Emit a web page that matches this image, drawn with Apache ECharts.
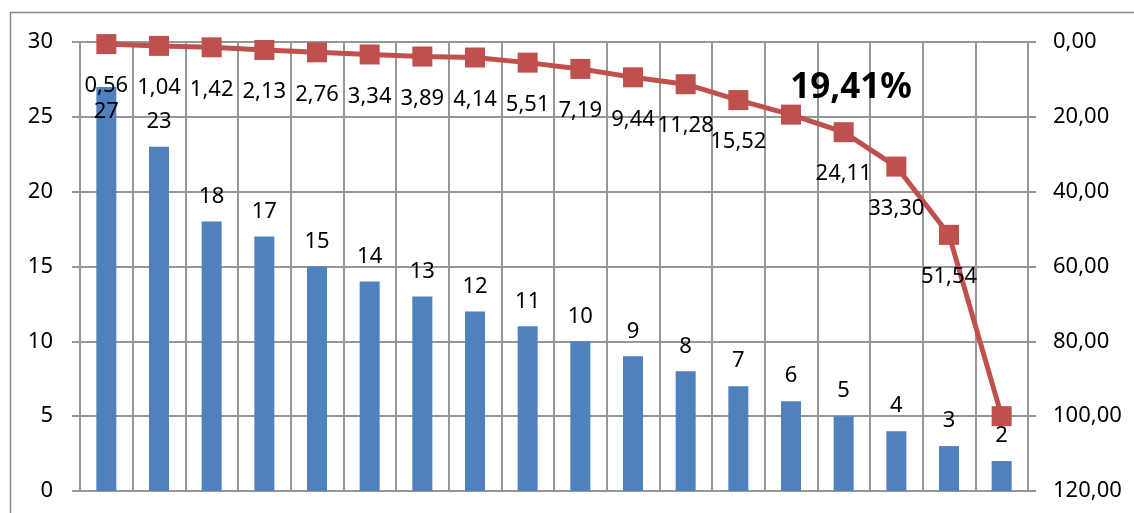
<!DOCTYPE html>
<html>
<head>
<meta charset="utf-8">
<script src="https://cdn.jsdelivr.net/npm/echarts@6/dist/echarts.min.js"></script>
<style>
  html, body { margin: 0; padding: 0; background: #fff; }
  #chartDom { width: 1134px; height: 513px; }
</style>
</head>
<body>
<div id="chartDom"></div>
<script>
var categories = ['1', '2', '3', '4', '5', '6', '7', '8', '9', '10', '11', '12', '13', '14', '15', '16', '17', '18'];
var barValues = [27, 23, 18, 17, 15, 14, 13, 12, 11, 10, 9, 8, 7, 6, 5, 4, 3, 2];
var lineValues = [0.56, 1.04, 1.42, 2.13, 2.76, 3.34, 3.89, 4.14, 5.51, 7.19, 9.44, 11.28, 15.52, 19.41, 24.11, 33.30, 51.54, 100];
var highlightIndex = 13; // 19,41% shown big
var gridColor = '#979797';
var fontFam = '"Noto Sans", sans-serif';

function comma(v) {
    return v.toFixed(2).replace('.', ',');
}

var chartDom = document.getElementById('chartDom');
var myChart = echarts.init(chartDom);

var barData = barValues.map(function (v, i) {
    if (i === 0) {
        // first label sits inside the bar top
        return { value: v, label: { position: 'insideTop', distance: 14 } };
    }
    return v;
});

var lineData = lineValues.map(function (v, i) {
    if (i === highlightIndex) {
        return {
            value: v,
            label: {
                position: 'inside',
                offset: [60, -27],
                fontSize: 35,
                fontWeight: 'bold',
                formatter: function (p) { return comma(p.value) + '%'; }
            }
        };
    }
    if (i === lineValues.length - 1) {
        return { value: v, label: { show: false } };
    }
    return v;
});

var option = {
    animation: false,
    textStyle: { fontFamily: fontFam },
    graphic: [{
        type: 'rect',
        shape: { x: 10.5, y: 12.5, width: 1300, height: 700 },
        style: { fill: 'none', stroke: '#8a8a8a', lineWidth: 1.5 },
        silent: true
    }],
    grid: { left: 80, right: 106, top: 42, bottom: 22 },
    xAxis: {
        type: 'category',
        data: categories,
        axisLabel: { show: false },
        axisTick: { show: false },
        axisLine: { show: true, lineStyle: { color: gridColor, width: 2 } },
        splitLine: { show: true, lineStyle: { color: gridColor, width: 2 } }
    },
    yAxis: [{
        type: 'value',
        min: 0,
        max: 30,
        interval: 5,
        axisLine: { show: true, lineStyle: { color: gridColor, width: 2 } },
        axisTick: { show: true, length: 8, lineStyle: { color: gridColor, width: 2 } },
        axisLabel: { color: '#000', fontSize: 22, margin: 27, fontFamily: fontFam },
        splitLine: { show: true, lineStyle: { color: gridColor, width: 2 } }
    }, {
        type: 'value',
        min: 0,
        max: 120,
        interval: 20,
        inverse: true,
        position: 'right',
        axisLine: { show: true, lineStyle: { color: gridColor, width: 2 } },
        axisTick: { show: true, length: 8, lineStyle: { color: gridColor, width: 2 } },
        axisLabel: {
            color: '#000', fontSize: 22, margin: 25, fontFamily: fontFam,
            formatter: function (v) { return comma(v); }
        },
        splitLine: { show: false }
    }],
    series: [{
        name: 'count',
        type: 'bar',
        data: barData,
        barWidth: 20,
        itemStyle: { color: '#4F81BD' },
        label: {
            show: true,
            position: 'top',
            distance: 14,
            color: '#000',
            fontSize: 22,
            fontFamily: fontFam
        },
        z: 2
    }, {
        name: 'percent',
        type: 'line',
        yAxisIndex: 1,
        data: lineData,
        symbol: 'rect',
        symbolSize: 20,
        lineStyle: { color: '#C0504D', width: 5 },
        itemStyle: { color: '#C0504D' },
        label: {
            show: true,
            position: 'bottom',
            distance: 21,
            color: '#000',
            fontSize: 22,
            fontFamily: fontFam,
            formatter: function (p) { return comma(p.value); }
        },
        z: 3
    }]
};

myChart.setOption(option);
</script>
</body>
</html>
